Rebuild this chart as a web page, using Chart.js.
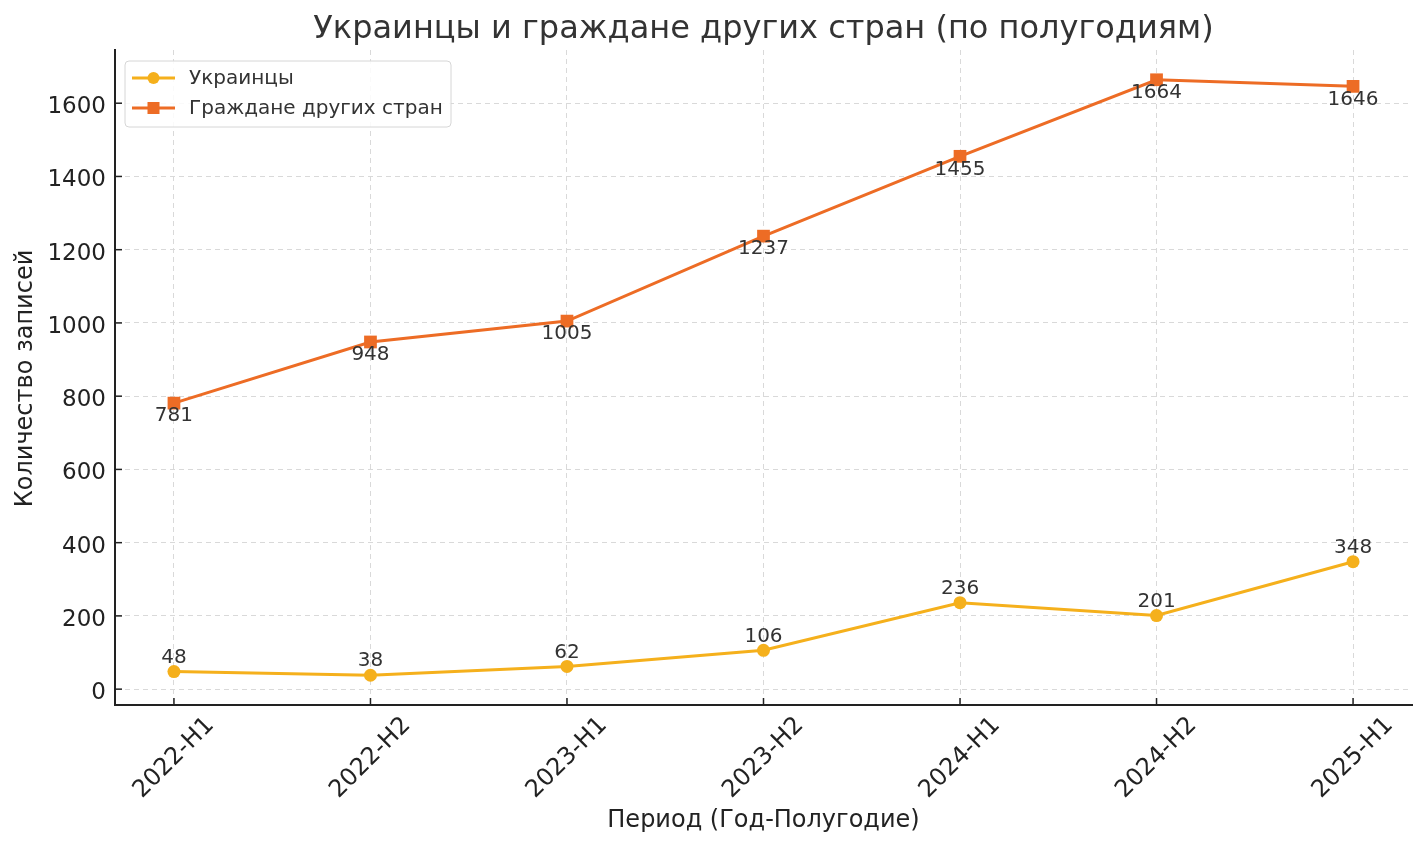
<!DOCTYPE html>
<html>
<head>
<meta charset="utf-8">
<script src="https://cdn.jsdelivr.net/npm/chart.js@4.4.1/dist/chart.umd.min.js"></script>
<style>
  html, body { margin: 0; padding: 0; background: #fff; }
  #wrap { width: 1426px; height: 848px; }
</style>
</head>
<body>
<div id="wrap"><canvas id="chart" width="1426" height="848"></canvas></div>
<script>
// === Data ===
const periods = ["2022-H1", "2022-H2", "2023-H1", "2023-H2", "2024-H1", "2024-H2", "2025-H1"];
const ukrainians = [48, 38, 62, 106, 236, 201, 348];
const foreigners = [781, 948, 1005, 1237, 1455, 1664, 1646];
const yTicks = [0, 200, 400, 600, 800, 1000, 1200, 1400, 1600];

const seriesNames = ["Украинцы", "Граждане других стран"];
const titleText = "Украинцы и граждане других стран (по полугодиям)";
const xTitle = "Период (Год-Полугодие)";
const yTitle = "Количество записей";

const YELLOW = "#f5b01c";
const ORANGE = "#ed6c25";
const FONT = "'DejaVu Sans', sans-serif";

const toPoints = (arr) => arr.map((v, i) => ({ x: i, y: v }));

// matplotlib-like 5% margins
const allVals = ukrainians.concat(foreigners);
const vMin = Math.min(...allVals), vMax = Math.max(...allVals);
const pad = (vMax - vMin) * 0.05;

// === Decorations: titles, inward ticks, tick labels, value labels, legend ===
const decor = {
  id: "decor",
  afterDatasetsDraw(chart) {
    const { ctx, chartArea: a, scales } = chart;
    ctx.save();

    // inward tick marks
    ctx.strokeStyle = "#222";
    ctx.lineWidth = 1.5;
    scales.y.ticks.forEach(t => {
      const y = scales.y.getPixelForValue(t.value);
      ctx.beginPath(); ctx.moveTo(a.left, y); ctx.lineTo(a.left + 7, y); ctx.stroke();
    });
    scales.x.ticks.forEach(t => {
      const x = scales.x.getPixelForValue(t.value);
      ctx.beginPath(); ctx.moveTo(x, a.bottom); ctx.lineTo(x, a.bottom - 7); ctx.stroke();
    });

    // y tick labels
    ctx.fillStyle = "#222";
    ctx.font = "23px " + FONT;
    ctx.textAlign = "right"; ctx.textBaseline = "alphabetic";
    scales.y.ticks.forEach(t => {
      const y = scales.y.getPixelForValue(t.value);
      ctx.fillText(String(t.value), a.left - 9, y + 10);
    });

    // x tick labels, rotated 45deg and centred under the tick
    ctx.font = "24px " + FONT;
    ctx.textAlign = "center"; ctx.textBaseline = "middle";
    scales.x.ticks.forEach(t => {
      const x = scales.x.getPixelForValue(t.value);
      ctx.save();
      ctx.translate(x, a.bottom + 53);
      ctx.rotate(-Math.PI / 4);
      ctx.fillText(periods[t.value], 0, 0);
      ctx.restore();
    });

    // value labels
    ctx.font = "20px " + FONT;
    ctx.fillStyle = "#333";
    ctx.textAlign = "center";
    chart.getDatasetMeta(0).data.forEach((p, i) => {
      ctx.textBaseline = "bottom";
      ctx.fillText(String(ukrainians[i]), p.x, p.y - 4);
    });
    chart.getDatasetMeta(1).data.forEach((p, i) => {
      ctx.textBaseline = "top";
      ctx.fillText(String(foreigners[i]), p.x, p.y + 3);
    });

    // legend
    const lx = a.left + 10, ly = a.top + 11, lw = 326, lh = 66;
    ctx.fillStyle = "rgba(255,255,255,0.85)";
    ctx.strokeStyle = "#d6d6d6";
    ctx.lineWidth = 1;
    ctx.beginPath();
    ctx.roundRect(lx, ly, lw, lh, 4);
    ctx.fill(); ctx.stroke();
    const rows = [
      { name: seriesNames[0], color: YELLOW, shape: "circle" },
      { name: seriesNames[1], color: ORANGE, shape: "square" }
    ];
    rows.forEach((r, k) => {
      const cy = ly + 17 + k * 30;
      ctx.strokeStyle = r.color; ctx.lineWidth = 2.8;
      ctx.beginPath(); ctx.moveTo(lx + 7, cy); ctx.lineTo(lx + 50, cy); ctx.stroke();
      ctx.fillStyle = r.color;
      if (r.shape === "circle") {
        ctx.beginPath(); ctx.arc(lx + 28.5, cy, 6, 0, Math.PI * 2); ctx.fill();
      } else {
        ctx.fillRect(lx + 22.5, cy - 6, 12, 12);
      }
      ctx.fillStyle = "#333";
      ctx.font = "20px " + FONT;
      ctx.textAlign = "left"; ctx.textBaseline = "middle";
      ctx.fillText(r.name, lx + 64, cy + 1);
    });

    // titles
    ctx.fillStyle = "#333";
    ctx.textAlign = "center"; ctx.textBaseline = "alphabetic";
    ctx.font = "32px " + FONT;
    ctx.fillText(titleText, (a.left + a.right) / 2, 38);
    ctx.fillStyle = "#222";
    ctx.font = "24px " + FONT;
    ctx.textBaseline = "middle";
    ctx.fillText(xTitle, (a.left + a.right) / 2, 821);
    ctx.translate(26, (a.top + a.bottom) / 2 + 1);
    ctx.rotate(-Math.PI / 2);
    ctx.fillText(yTitle, 0, 0);
    ctx.restore();
  }
};

new Chart(document.getElementById("chart"), {
  type: "line",
  data: {
    datasets: [
      {
        label: seriesNames[0],
        data: toPoints(ukrainians),
        borderColor: YELLOW,
        backgroundColor: YELLOW,
        borderWidth: 3,
        pointStyle: "circle",
        pointRadius: 6.5,
        pointBorderWidth: 0,
        tension: 0
      },
      {
        label: seriesNames[1],
        data: toPoints(foreigners),
        borderColor: ORANGE,
        backgroundColor: ORANGE,
        borderWidth: 3,
        pointStyle: "rect",
        pointRadius: 9,
        pointBorderWidth: 0,
        tension: 0
      }
    ]
  },
  options: {
    responsive: false,
    animation: false,
    devicePixelRatio: 1,
    layout: { padding: { top: 50, right: 14, left: 0, bottom: 0 } },
    plugins: {
      legend: { display: false },
      tooltip: { enabled: false },
      title: { display: false }
    },
    scales: {
      x: {
        type: "linear",
        min: -0.3,
        max: periods.length - 1 + 0.3,
        afterBuildTicks: (scale) => { scale.ticks = periods.map((p, i) => ({ value: i })); },
        afterFit: (scale) => { scale.height = 143; },
        ticks: { display: false },
        grid: { color: "#d9d9d9", lineWidth: 1, drawTicks: false, borderDash: [5, 4] },
        border: { display: true, color: "#222", width: 2, dash: [5, 4] }
      },
      y: {
        min: vMin - pad,
        max: vMax + pad,
        afterBuildTicks: (scale) => { scale.ticks = yTicks.map(v => ({ value: v })); },
        afterFit: (scale) => { scale.width = 115; },
        ticks: { display: false },
        grid: { color: "#d9d9d9", lineWidth: 1, drawTicks: false, borderDash: [5, 4] },
        border: { display: true, color: "#222", width: 2, dash: [5, 4] }
      }
    }
  },
  plugins: [decor]
});
</script>
</body>
</html>
